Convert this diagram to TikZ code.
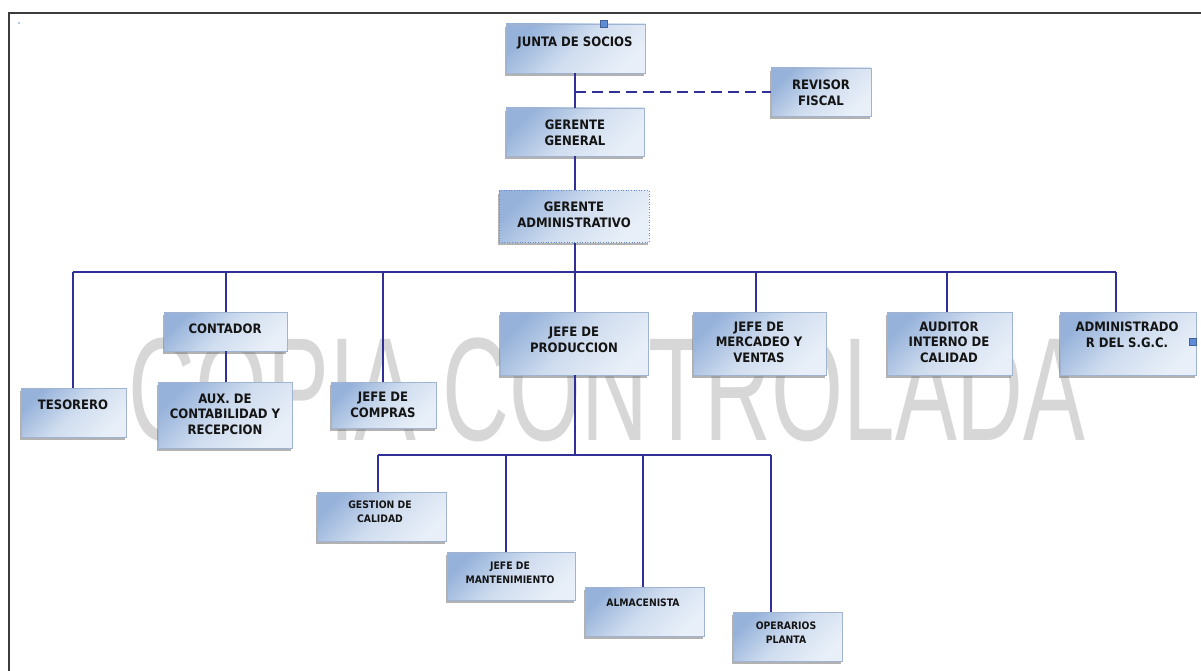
\documentclass[tikz,border=0pt]{standalone}
\usepackage{fontspec}
\newfontfamily\boxfont{DejaVu Sans Condensed}
\newfontfamily\wmfont{Liberation Sans}
\usetikzlibrary{shadows}
\definecolor{conncol}{RGB}{48,48,150}
\definecolor{boxdark}{RGB}{150,178,218}
\definecolor{boxlight}{RGB}{232,239,248}
\definecolor{boxedge}{RGB}{160,180,210}
\definecolor{handle}{RGB}{95,140,215}
\definecolor{framecol}{RGB}{60,60,60}
\definecolor{wmcol}{RGB}{215,215,215}
\tikzset{
  orgbox/.style={rectangle, inner sep=0pt, draw=boxedge, line width=0.6pt,
    top color=boxdark, bottom color=boxlight, middle color=boxlight!70!boxdark, shading angle=45,
    drop shadow={shadow xshift=-1.5pt, shadow yshift=-3pt, fill=black!55, opacity=0.55}},
  selbox/.style={orgbox, draw=handle, dotted, line width=1pt},
  lbl/.style={font=\boxfont\bfseries\fontsize{13}{15.5}\selectfont, align=center, text=black!92, inner sep=0pt},
  slbl/.style={font=\boxfont\bfseries\fontsize{10.3}{14}\selectfont, align=center, text=black!92, inner sep=0pt},
  conn/.style={draw=conncol, line width=1.2pt},
  dashconn/.style={conn, dash pattern=on 11pt off 6pt},
  hnd/.style={rectangle, inner sep=0pt, fill=handle, draw=handle!70!black, line width=0.4pt, minimum size=7pt}
}
\newcommand\orgbx[6][orgbox]{%
  \node[#1, minimum width={#5-#3}, minimum height={#6-#4}] (#2) at ({(#3+#5)/2},{(#4+#6)/2}) {};}
\begin{document}
\begin{tikzpicture}[x=1pt,y=-1pt]
\useasboundingbox (0,0) rectangle (1201,671);
\fill[white] (0,0) rectangle (1201,671);
% frame
\draw[framecol, line width=2pt] (9,671) -- (9,13) -- (1201,13);
\fill[handle] (19,23) circle (0.8pt);
% watermark
\node[font=\wmfont\fontsize{147}{147}\selectfont, text=wmcol, anchor=base, inner sep=0pt, xscale=0.63] (wm) at (607,440) {COPIA CONTROLADA};

% boxes
\orgbx{junta}{506}{24}{645}{73}
\orgbx{rev}{771}{68}{871}{116}
\orgbx{gg}{506}{108}{644}{156}
\orgbx[selbox]{ga}{499}{191}{649}{242}
\orgbx{tes}{21}{388}{126}{437}
\orgbx{cont}{164}{312}{287}{351}
\orgbx{aux}{158}{382}{292}{448}
\orgbx{comp}{331}{382}{436}{428}
\orgbx{prod}{500}{312}{648}{375}
\orgbx{merc}{693}{312}{826}{375}
\orgbx{aud}{887}{312}{1012}{375}
\orgbx{adm}{1060}{312}{1196}{375}
\orgbx{gest}{317}{492}{446}{541}
\orgbx{mant}{447}{552}{575}{600}
\orgbx{alm}{585}{587}{704}{636}
\orgbx{oper}{733}{612}{842}{661}

% labels
\node[lbl] (tjunta) at (575,43) {JUNTA DE SOCIOS};
\node[lbl] (trev) at (821,93) {REVISOR\\FISCAL};
\node[lbl] (tgg) at (575,133) {GERENTE\\GENERAL};
\node[lbl] (tga) at (574,215) {GERENTE\\ADMINISTRATIVO};
\node[lbl] (ttes) at (73,405) {TESORERO};
\node[lbl] (tcont) at (225,329) {CONTADOR};
\node[lbl] (taux) at (225,414) {AUX. DE\\CONTABILIDAD Y\\RECEPCION};
\node[lbl] (tcomp) at (383,405) {JEFE DE\\COMPRAS};
\node[lbl] (tprod) at (574,340) {JEFE DE\\PRODUCCION};
\node[lbl] (tmerc) at (759,342) {JEFE DE\\MERCADEO Y\\VENTAS};
\node[lbl] (taud) at (949,342) {AUDITOR\\INTERNO DE\\CALIDAD};
\node[lbl] (tadm) at (1127,335) {ADMINISTRADO\\R DEL S.G.C.};
\node[slbl] (tgest) at (380,512) {GESTION DE\\CALIDAD};
\node[slbl] (tmant) at (510,573) {JEFE DE\\MANTENIMIENTO};
\node[slbl] (talm) at (643,603) {ALMACENISTA};
\node[slbl] (toper) at (786,633) {OPERARIOS\\PLANTA};

% handles
\node[hnd] (h1) at (604,24) {};
\node[hnd] (h2) at (1193,342) {};

% connectors: top chain
\coordinate (dj) at (575,92);
\draw[conn] (junta.south -| dj) -- (gg.north -| dj);
\draw[conn] (gg.south -| dj) -- (ga.north -| dj);
\draw[dashconn] (dj) -- (rev.west);

% first bus
\coordinate (b1) at (73,272);
\coordinate (b2) at (226,272);
\coordinate (b3) at (383,272);
\coordinate (b4) at (575,272);
\coordinate (b5) at (756,272);
\coordinate (b6) at (947,272);
\coordinate (b7) at (1116,272);
\draw[conn] (ga.south -| b4) -- (b4);
\draw[conn] (b1) -- (b7);
\draw[conn] (b1) -- (b1 |- tes.north);
\draw[conn] (b2) -- (b2 |- cont.north);
\draw[conn] (cont.south -| b2) -- (aux.north -| b2);
\draw[conn] (b3) -- (b3 |- comp.north);
\draw[conn] (b4) -- (b4 |- prod.north);
\draw[conn] (b5) -- (b5 |- merc.north);
\draw[conn] (b6) -- (b6 |- aud.north);
\draw[conn] (b7) -- (b7 |- adm.north);

% second bus
\coordinate (c1) at (378,455);
\coordinate (c2) at (506,455);
\coordinate (c3) at (643,455);
\coordinate (c4) at (771,455);
\coordinate (c0) at (575,455);
\draw[conn] (prod.south -| c0) -- (c0);
\draw[conn] (c1) -- (c4);
\draw[conn] (c1) -- (c1 |- gest.north);
\draw[conn] (c2) -- (c2 |- mant.north);
\draw[conn] (c3) -- (c3 |- alm.north);
\draw[conn] (c4) -- (c4 |- oper.north);
\end{tikzpicture}
\end{document}
